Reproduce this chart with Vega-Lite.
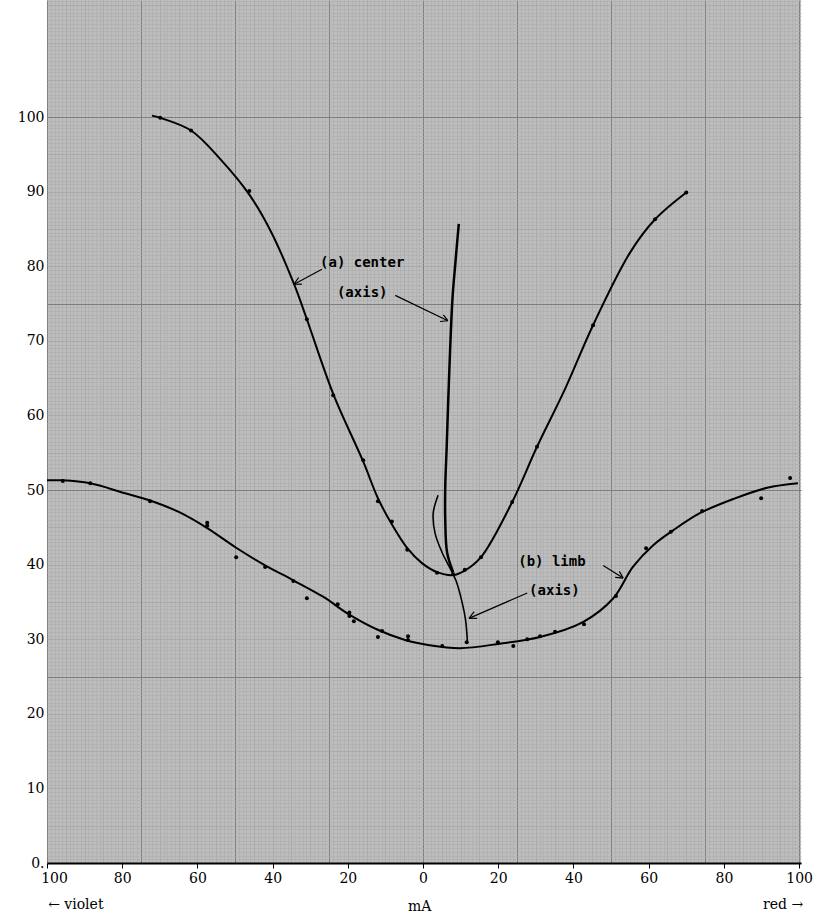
{
  "$schema": "https://vega.github.io/schema/vega-lite/v6.json",
  "width": 754,
  "height": 863,
  "autosize": {"type": "none"},
  "padding": {"left": 47, "top": 0, "right": 16, "bottom": 54},
  "background": "white",
  "config": {"view": {"stroke": null, "fill": "#bdbdbd"}},
  "datasets": {
    "curves": [
      {"curve": "a", "x": -72.1, "y": 100.2}, {"curve": "a", "x": -69.9, "y": 99.9}, {"curve": "a", "x": -61.7, "y": 98.2},
      {"curve": "a", "x": -53.8, "y": 94.3}, {"curve": "a", "x": -46.2, "y": 89.6}, {"curve": "a", "x": -40.4, "y": 84.6},
      {"curve": "a", "x": -34.3, "y": 77.6}, {"curve": "a", "x": -30.9, "y": 72.9}, {"curve": "a", "x": -23.9, "y": 62.9},
      {"curve": "a", "x": -15.9, "y": 53.8}, {"curve": "a", "x": -12.0, "y": 48.9}, {"curve": "a", "x": -8.3, "y": 45.4},
      {"curve": "a", "x": -4.2, "y": 42.2}, {"curve": "a", "x": -0.3, "y": 40.2}, {"curve": "a", "x": 3.7, "y": 39.0},
      {"curve": "a", "x": 8.0, "y": 38.6}, {"curve": "a", "x": 11.1, "y": 39.2}, {"curve": "a", "x": 15.4, "y": 41.0},
      {"curve": "a", "x": 23.7, "y": 48.4}, {"curve": "a", "x": 30.3, "y": 55.8}, {"curve": "a", "x": 37.8, "y": 63.6},
      {"curve": "a", "x": 45.2, "y": 72.1}, {"curve": "a", "x": 55.0, "y": 81.8}, {"curve": "a", "x": 61.7, "y": 86.3},
      {"curve": "a", "x": 70.0, "y": 89.9},
      {"curve": "b", "x": -100, "y": 51.3}, {"curve": "b", "x": -95.8, "y": 51.3}, {"curve": "b", "x": -88.5, "y": 50.9},
      {"curve": "b", "x": -79.5, "y": 49.6}, {"curve": "b", "x": -72.6, "y": 48.6}, {"curve": "b", "x": -64.7, "y": 47.0},
      {"curve": "b", "x": -57.4, "y": 44.9}, {"curve": "b", "x": -49.8, "y": 42.3}, {"curve": "b", "x": -42.0, "y": 39.9},
      {"curve": "b", "x": -34.5, "y": 37.9}, {"curve": "b", "x": -26.6, "y": 35.7}, {"curve": "b", "x": -19.6, "y": 33.3},
      {"curve": "b", "x": -12.2, "y": 31.3}, {"curve": "b", "x": -4.8, "y": 29.9}, {"curve": "b", "x": 1.7, "y": 29.2},
      {"curve": "b", "x": 9.8, "y": 28.8}, {"curve": "b", "x": 20.4, "y": 29.4}, {"curve": "b", "x": 31.1, "y": 30.3},
      {"curve": "b", "x": 42.5, "y": 32.3}, {"curve": "b", "x": 50.6, "y": 35.5}, {"curve": "b", "x": 55.8, "y": 39.7},
      {"curve": "b", "x": 61.2, "y": 42.6}, {"curve": "b", "x": 66.5, "y": 44.6}, {"curve": "b", "x": 73.6, "y": 46.9},
      {"curve": "b", "x": 82.5, "y": 48.8}, {"curve": "b", "x": 91.5, "y": 50.3}, {"curve": "b", "x": 99.7, "y": 50.9}
    ],
    "dots": [
      {"curve": "a", "x": -69.9, "y": 99.9}, {"curve": "a", "x": -61.7, "y": 98.2}, {"curve": "a", "x": -46.2, "y": 90.1},
      {"curve": "a", "x": -30.9, "y": 72.9}, {"curve": "a", "x": -23.9, "y": 62.7}, {"curve": "a", "x": -15.9, "y": 54.0},
      {"curve": "a", "x": -12.0, "y": 48.5}, {"curve": "a", "x": -8.3, "y": 45.8}, {"curve": "a", "x": -4.2, "y": 42.0},
      {"curve": "a", "x": 3.7, "y": 38.9}, {"curve": "a", "x": 8.0, "y": 38.7}, {"curve": "a", "x": 11.1, "y": 39.3},
      {"curve": "a", "x": 15.4, "y": 41.0}, {"curve": "a", "x": 23.7, "y": 48.4}, {"curve": "a", "x": 30.3, "y": 55.8},
      {"curve": "a", "x": 45.2, "y": 72.1}, {"curve": "a", "x": 61.7, "y": 86.3}, {"curve": "a", "x": 70.0, "y": 89.9},
      {"curve": "b", "x": -95.8, "y": 51.2}, {"curve": "b", "x": -88.5, "y": 50.9}, {"curve": "b", "x": -72.6, "y": 48.5},
      {"curve": "b", "x": -57.4, "y": 45.6}, {"curve": "b", "x": -57.4, "y": 45.2}, {"curve": "b", "x": -49.7, "y": 41.0},
      {"curve": "b", "x": -42.0, "y": 39.7}, {"curve": "b", "x": -34.5, "y": 37.8}, {"curve": "b", "x": -30.9, "y": 35.5},
      {"curve": "b", "x": -22.7, "y": 34.7}, {"curve": "b", "x": -19.6, "y": 33.6}, {"curve": "b", "x": -19.6, "y": 33.1},
      {"curve": "b", "x": -18.4, "y": 32.4}, {"curve": "b", "x": -12.0, "y": 30.3}, {"curve": "b", "x": -10.9, "y": 31.1},
      {"curve": "b", "x": -4.0, "y": 30.4}, {"curve": "b", "x": -4.0, "y": 29.9}, {"curve": "b", "x": 5.1, "y": 29.1},
      {"curve": "b", "x": 11.6, "y": 29.6}, {"curve": "b", "x": 19.9, "y": 29.6}, {"curve": "b", "x": 24.0, "y": 29.1},
      {"curve": "b", "x": 27.7, "y": 30.0}, {"curve": "b", "x": 31.1, "y": 30.4}, {"curve": "b", "x": 35.1, "y": 31.0},
      {"curve": "b", "x": 42.8, "y": 32.0}, {"curve": "b", "x": 51.3, "y": 35.8}, {"curve": "b", "x": 59.3, "y": 42.2},
      {"curve": "b", "x": 65.9, "y": 44.4}, {"curve": "b", "x": 74.2, "y": 47.2}, {"curve": "b", "x": 89.9, "y": 48.9},
      {"curve": "b", "x": 97.6, "y": 51.6}
    ],
    "axes": [
      {"curve": "center", "i": 0, "x": 9.5, "y": 85.7}, {"curve": "center", "i": 1, "x": 8.6, "y": 80.5},
      {"curve": "center", "i": 2, "x": 7.8, "y": 75.5}, {"curve": "center", "i": 3, "x": 6.7, "y": 62.1},
      {"curve": "center", "i": 4, "x": 6.3, "y": 56.0}, {"curve": "center", "i": 5, "x": 5.9, "y": 50.4},
      {"curve": "center", "i": 6, "x": 5.9, "y": 46.0}, {"curve": "center", "i": 7, "x": 6.4, "y": 41.6},
      {"curve": "center", "i": 8, "x": 8.0, "y": 39.0},
      {"curve": "limb", "i": 0, "x": 4.0, "y": 49.3}, {"curve": "limb", "i": 1, "x": 2.7, "y": 46.9},
      {"curve": "limb", "i": 2, "x": 3.2, "y": 44.2}, {"curve": "limb", "i": 3, "x": 5.1, "y": 41.6},
      {"curve": "limb", "i": 4, "x": 7.2, "y": 39.5}, {"curve": "limb", "i": 5, "x": 8.8, "y": 37.8},
      {"curve": "limb", "i": 6, "x": 10.4, "y": 34.9}, {"curve": "limb", "i": 7, "x": 11.3, "y": 32.6},
      {"curve": "limb", "i": 8, "x": 11.8, "y": 29.6}
    ],
    "arrows": [
      {"x": -26.9, "y": 79.6, "x2": -34.3, "y2": 77.6}, {"x": -32.2, "y": 77.6, "x2": -34.3, "y2": 77.6}, {"x": -33.1, "y": 78.5, "x2": -34.3, "y2": 77.6},
      {"x": -7.4, "y": 76.1, "x2": 6.6, "y2": 72.7}, {"x": 5.4, "y": 73.5, "x2": 6.6, "y2": 72.7}, {"x": 4.5, "y": 72.6, "x2": 6.6, "y2": 72.7},
      {"x": 47.9, "y": 39.9, "x2": 53.2, "y2": 38.2}, {"x": 52.2, "y": 39.1, "x2": 53.2, "y2": 38.2}, {"x": 51.1, "y": 38.3, "x2": 53.2, "y2": 38.2},
      {"x": 27.7, "y": 36.2, "x2": 12.2, "y2": 32.8}, {"x": 14.4, "y": 32.8, "x2": 12.2, "y2": 32.8}, {"x": 13.6, "y": 33.7, "x2": 12.2, "y2": 32.8}
    ],
    "notes": [
      {"x": -27.4, "y": 80.4, "text": "(a) center"},
      {"x": -22.9, "y": 76.4, "text": "(axis)"},
      {"x": 25.3, "y": 40.3, "text": "(b)  limb"},
      {"x": 28.2, "y": 36.5, "text": "(axis)"}
    ],
    "footer": [
      {"x": -99.7, "y": -5.6, "text": "← violet"},
      {"x": -4.0, "y": -5.9, "text": "mA"},
      {"x": 90.4, "y": -5.6, "text": "red →"}
    ]
  },
  "encoding": {
    "x": {
      "field": "x", "type": "quantitative",
      "scale": {"domain": [-100, 100.5], "nice": false, "zero": false},
      "axis": {
        "title": null, "tickCount": 200, "grid": true,
        "gridColor": {"condition": [{"test": "datum.value % 25 === 0", "value": "#7e7e7e"}, {"test": "datum.value % 5 === 0", "value": "#a0a0a0"}], "value": "#adadad"},
        "gridWidth": {"condition": {"test": "datum.value % 25 === 0", "value": 1}, "value": 0.6},
        "labelExpr": "datum.value % 20 === 0 ? '' + abs(datum.value) : ''",
        "labelOverlap": false, "labelFlush": false,
        "labelFont": "DejaVu Serif", "labelFontSize": 14, "labelColor": "black",
        "labelOffset": {"condition": {"test": "datum.value === -100", "value": 7}, "value": 0},
        "labelPadding": 3,
        "ticks": true, "tickSize": 5, "tickColor": "black",
        "tickOpacity": {"condition": {"test": "datum.value % 20 === 0", "value": 1}, "value": 0},
        "domain": true, "domainColor": "black", "domainWidth": 2
      }
    },
    "y": {
      "field": "y", "type": "quantitative",
      "scale": {"domain": [0, 115.7], "nice": false, "zero": false},
      "axis": {
        "title": null, "tickCount": 231, "grid": true,
        "gridColor": {"condition": [{"test": "datum.value % 25 === 0", "value": "#7e7e7e"}, {"test": "datum.value % 5 === 0", "value": "#a0a0a0"}], "value": "#adadad"},
        "gridWidth": {"condition": {"test": "datum.value % 25 === 0", "value": 1}, "value": 0.6},
        "labelExpr": "(datum.value % 10 === 0 && datum.value <= 100) ? (datum.value === 0 ? '0.' : '' + datum.value) : ''",
        "labelOverlap": false, "labelFlush": false,
        "labelFont": "DejaVu Serif", "labelFontSize": 14, "labelColor": "black",
        "labelPadding": 3, "ticks": false, "domain": false
      }
    }
  },
  "layer": [
    {
      "mark": {"type": "rule", "color": "black", "strokeWidth": 2},
      "encoding": {"x": {"datum": -100}, "y": {"datum": 0}, "y2": {"datum": 108.3}}
    },
    {
      "data": {"name": "curves"},
      "mark": {"type": "line", "interpolate": "catmull-rom", "color": "black", "strokeWidth": 2},
      "encoding": {"detail": {"field": "curve"}}
    },
    {
      "data": {"name": "axes"},
      "transform": [{"filter": "datum.curve === 'center'"}],
      "mark": {"type": "line", "interpolate": "catmull-rom", "color": "black", "strokeWidth": 2.5},
      "encoding": {"order": {"field": "i"}}
    },
    {
      "data": {"name": "axes"},
      "transform": [{"filter": "datum.curve === 'limb'"}],
      "mark": {"type": "line", "interpolate": "catmull-rom", "color": "black", "strokeWidth": 1.6},
      "encoding": {"order": {"field": "i"}}
    },
    {
      "data": {"name": "dots"},
      "mark": {"type": "point", "filled": true, "color": "black", "size": 16, "opacity": 1}
    },
    {
      "data": {"name": "arrows"},
      "mark": {"type": "rule", "color": "black", "strokeWidth": 1.2},
      "encoding": {"x2": {"field": "x2"}, "y2": {"field": "y2"}}
    },
    {
      "data": {"name": "notes"},
      "mark": {"type": "text", "align": "left", "baseline": "middle", "font": "DejaVu Sans Mono", "fontWeight": "bold", "fontSize": 14, "color": "black"},
      "encoding": {"text": {"field": "text"}}
    },
    {
      "data": {"name": "footer"},
      "mark": {"type": "text", "align": "left", "baseline": "middle", "font": "DejaVu Serif", "fontSize": 14, "color": "black", "clip": false},
      "encoding": {"text": {"field": "text"}}
    }
  ]
}
